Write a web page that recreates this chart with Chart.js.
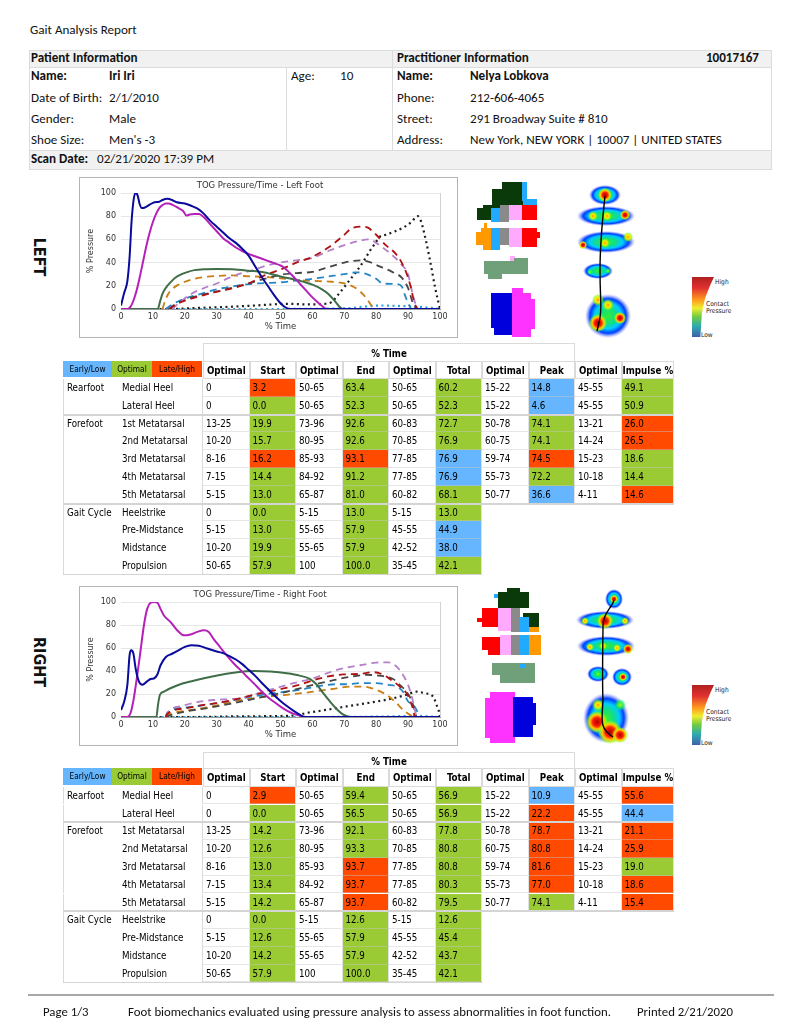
<!DOCTYPE html>
<html lang="en">
<head>
<meta charset="UTF-8">
<title>Gait Analysis Report</title>
<script src="https://cdn.jsdelivr.net/npm/chart.js"></script>
<style>
  html, body { margin: 0; padding: 0; background: #fff; }
  body { width: 791px; height: 1024px; position: relative; overflow: hidden;
         font-family: "Carlito", "Liberation Sans Narrow", "DejaVu Sans Condensed", sans-serif; color: #111; }
  .t { position: absolute; white-space: nowrap; font-size: 13.1px; line-height: 20px; }
  .b { font-weight: bold; }
  .box { position: absolute; box-sizing: border-box; }
  .chart-box { position: absolute; left: 79px; width: 379px; border: 1px solid #b4b4b4; box-sizing: border-box; background: #fff; }
  .side { position: absolute; left: 38.5px; font: bold 16px "Liberation Sans Narrow", "DejaVu Sans Condensed", sans-serif;
          transform: translate(-50%, -50%) rotate(90deg); white-space: nowrap; }
  .cell { position: absolute; box-sizing: border-box; white-space: nowrap; overflow: hidden;
          font: 9.7px "DejaVu Sans Condensed", "DejaVu Sans", sans-serif; color: #000; }
  .px { position: absolute; }
  .lg { position: absolute; font: 6.6px "DejaVu Sans Condensed", sans-serif; color: #222; line-height: 7px; white-space: nowrap; }
</style>
</head>
<body>

<div class="t" style="left:30px;top:20px;">Gait Analysis Report</div>

<!-- patient / practitioner header -->
<div class="box" style="left:29px;top:50px;width:743px;height:120px;border:1px solid #dcdcdc;"></div>
<div class="box" style="left:29px;top:50px;width:743px;height:18px;background:#f1f1f1;border:1px solid #dcdcdc;"></div>
<div class="box" style="left:29px;top:150px;width:743px;height:20px;background:#f1f1f1;border:1px solid #dcdcdc;"></div>
<div class="box" style="left:286px;top:67px;width:1px;height:83px;background:#dcdcdc;"></div>
<div class="box" style="left:392px;top:50px;width:1px;height:100px;background:#dcdcdc;"></div>

<div class="t b" style="left:31px;top:48px;">Patient Information</div>
<div class="t b" style="left:397px;top:48px;">Practitioner Information</div>
<div class="t b" style="right:32px;top:48px;">10017167</div>

<div class="t b" style="left:31px;top:66px;">Name:</div>
<div class="t b" style="left:109px;top:66px;">Iri Iri</div>
<div class="t" style="left:291px;top:66px;">Age:</div>
<div class="t" style="left:340px;top:66px;">10</div>
<div class="t" style="left:31px;top:88px;">Date of Birth:</div>
<div class="t" style="left:109px;top:88px;">2/1/2010</div>
<div class="t" style="left:31px;top:109px;">Gender:</div>
<div class="t" style="left:109px;top:109px;">Male</div>
<div class="t" style="left:31px;top:130px;">Shoe Size:</div>
<div class="t" style="left:109px;top:130px;">Men's -3</div>

<div class="t b" style="left:397px;top:66px;">Name:</div>
<div class="t b" style="left:470px;top:66px;">Nelya Lobkova</div>
<div class="t" style="left:397px;top:88px;">Phone:</div>
<div class="t" style="left:470px;top:88px;">212-606-4065</div>
<div class="t" style="left:397px;top:109px;">Street:</div>
<div class="t" style="left:470px;top:109px;">291 Broadway Suite # 810</div>
<div class="t" style="left:397px;top:130px;">Address:</div>
<div class="t" style="left:470px;top:130px;">New York, NEW YORK | 10007 | UNITED STATES</div>

<div class="t b" style="left:31px;top:149px;">Scan Date:</div>
<div class="t" style="left:97px;top:149px;">02/21/2020 17:39 PM</div>

<div class="side" style="top:257px;">LEFT</div>
<div class="side" style="top:662px;">RIGHT</div>

<div class="chart-box" style="top:177px;height:161px;"><canvas id="leftChart"></canvas></div>
<div class="chart-box" style="top:586px;height:160px;"><canvas id="rightChart"></canvas></div>

<div id="art"></div>
<svg class="px" style="left:0;top:0;" width="791" height="1024">
  <path d="M605,196 C603,215 600,240 600,270 S602,305 600,318 L597,331" fill="none" stroke="#000" stroke-width="1.4"/>
  <path d="M614,600 C612,608 603,613 603,625 S602,680 603,700 C602,720 599,728 613,737" fill="none" stroke="#000" stroke-width="1.4"/>
</svg>

<div id="tables"></div>

<div class="box" style="left:28px;top:994px;width:746px;height:2px;background:#a8a8a8;"></div>
<div class="t" style="left:43px;top:1002px;font-size:12.8px;">Page 1/3</div>
<div class="t" style="left:128px;top:1002px;font-size:12.8px;">Foot biomechanics evaluated using pressure analysis to assess abnormalities in foot function.</div>
<div class="t" style="left:637px;top:1002px;font-size:12.8px;">Printed 2/21/2020</div>

<script>
// ---- chart data: [% time, % pressure] ----
const timeTicks = [0, 10, 20, 30, 40, 50, 60, 70, 80, 90, 100];
const pressureTicks = [0, 10, 20, 30, 40, 50, 60, 70, 80, 90, 100];

// left foot
const leftLatHeel = [[0,3],[1,14],[2,24],[2.7,45],[3.3,75],[4,95],[4.6,100],[5.2,98],[5.8,91],[6.5,87],[7.5,87.5],[9,90],[10.5,92],[12,92.5],[13,94],[14.5,95],[16,94],[17.5,92],[20,91],[22,89],[24,86.5],[26,82],[28,76],[30,71],[32,66],[34,61],[36,57],[38,52],[40,46],[42,37],[44,28],[46,20],[48,12],[50,5],[51.5,1.5],[53,0],[100,0]];
const leftMedHeel = [[0,0],[2,0],[3,2],[4,8],[5,17],[6,29],[7,42],[8,55],[9,66],[10,75],[11,82],[12,87],[13,89.5],[14,91],[15,91],[16,90],[18,87],[19.5,84.5],[20.5,80.5],[21.5,81.5],[23,82],[24.5,82],[26,79],[28,73],[30,67],[32,61],[34,57],[36,53],[38,50],[40,47.5],[42,45.5],[44,43.5],[46,41.5],[48,39.5],[50,37.5],[51,36],[52,33.5],[54,28],[56,22],[58,16],[60,10],[62,5],[63.5,1.5],[64.5,0],[100,0]];
const leftMidfoot = [[0,0],[11.5,0],[12.3,7],[13,13],[14,18],[15.5,23],[17,27],[19,30],[21,32],[23,33.5],[26,34.3],[30,34.5],[35,34.2],[40,33],[45,31.5],[50,28],[55,25],[60,21],[63,17],[65,13],[67,7],[68.5,2],[69.5,0],[100,0]];
const leftMet1 = [[15,0],[18,5],[22,9],[26,12],[30,15],[35,18],[40,22],[45,29],[50,34],[55,40],[60,45],[65,53],[70,64],[72,69],[75,71],[77,70.5],[80,64],[83,55],[86,48],[88,40],[90,27],[91,17],[92,5],[93,0]];
const leftMet2 = [[16,0],[19,7],[22,13],[26,18],[30,22],[34,27],[38,31],[42,34],[45,37],[50,40],[55,42],[60,44],[65,50],[70,55],[75,59],[78,60],[80,57],[83,51],[86,44],[88,38],[90,30],[91,18],[92,7],[93,0]];
const leftMet3 = [[15,0],[17,4],[20,8],[25,12],[30,15],[35,18.5],[40,22],[45,26],[50,29.5],[55,31],[60,32],[65,36],[70,40],[75,42],[78,40.5],[80,38],[85,32],[88,27],[90,18],[91.5,5],[92.5,0]];
const leftMet4 = [[14,0],[15,2],[17.5,6],[20,9],[25,13],[30,17],[35,19.5],[40,21.5],[45,22.3],[50,23],[55,24.5],[60,26],[65,28],[70,30],[74,31.6],[77,30],[80,26],[82,22],[86,21.5],[88,19.5],[89,12],[90,5],[91,0]];
const leftMet5 = [[13,0],[13.8,7],[14.8,13],[16,17],[18,21],[20,23.5],[23,26],[26,27.5],[30,28.5],[34,29],[38,28.5],[42,28],[46,27.5],[50,26.5],[54,25.5],[58,24.5],[62,24],[66,23.5],[70,22],[73,19],[75,15],[77,9],[78.5,3],[79.5,0]];
const leftHallux = [[0,0],[15,0],[25,1],[35,2],[45,3.5],[52,4.5],[58,4],[64,4.5],[66,6],[68,12],[70,19],[72,26],[74,33],[76,41],[78,50],[80,58],[81,62],[83,64],[86,67],[89,71],[91,75],[93,80],[94,76],[95.5,60],[97,40],[98.5,18],[100,0]];
const leftToes = [[11,0],[40,0],[70,0.5],[78,2.5],[82,3],[88,2.5],[93,2],[97,1],[100,0]];

// right foot
const rightLatHeel = [[0,6],[1,13.5],[2,28],[2.7,54],[3.2,58],[3.9,55],[4.6,42],[5.6,31],[6.7,28],[8.2,31],[9.3,33],[10.3,33.5],[11.4,37],[12.4,45],[14,52],[16,55],[18,58],[20,61],[22,62.5],[24.4,62],[27,59.6],[30,57],[32,55.5],[34,53],[36,50],[38,46],[40,41],[42,36],[44,30],[46,24.5],[48,19],[50,14],[52,9.5],[54,5.5],[56,2],[57.5,0],[100,0]];
const rightMedHeel = [[0,0],[2,0],[3,3.5],[4,16],[5.1,36.6],[6.1,57],[7.2,80],[8.2,94],[9.3,99.4],[10.3,100],[11.4,99.4],[12.4,94],[13.4,88.5],[15.5,82.7],[17.6,75.5],[19.7,71],[21.8,71.8],[23.9,74],[26,75.5],[27.5,74],[29,68],[31,61],[33,54],[35.3,46.7],[37.4,41],[39.5,35],[41.6,29.4],[43.6,23.6],[45.7,18],[47.8,13.5],[49.9,9.2],[52,5.5],[54,2.9],[56,1.2],[58.2,0],[100,0]];
const rightMidfoot = [[0,0],[11.1,0],[11.6,10.7],[12.2,19.3],[13.4,22],[15.5,25],[18.6,28.5],[21.8,30.8],[26,33.7],[31,36.6],[36.4,39],[41.6,40],[46.8,39.5],[52,38],[56,36],[59.3,33],[61.4,28],[63.4,20.7],[65.5,13.5],[67.6,7],[69.7,2],[71.8,0],[100,0]];
const rightMet1 = [[14,0],[14.5,2.6],[20.7,7.8],[27,11],[30,12],[35.3,15],[41.6,19.3],[48.9,23.6],[56,28],[60.3,32],[64.5,35],[69.7,37],[75,37.5],[79,39],[82,37],[84.8,32],[87.4,26.5],[89.5,20.7],[90.5,15],[91.6,6.3],[92,0]];
const rightMet2 = [[14,0],[14.5,3.5],[19.7,10],[25,13.5],[30,15],[37.4,16.4],[44.7,22],[54,29.4],[60.3,33.7],[64.5,38],[69.7,42.4],[75,45],[80,47.3],[83.8,47.5],[86.4,43.8],[88.4,36.6],[90,28],[91,19.3],[92,7.8],[92.6,0]];
const rightMet3 = [[14,0],[14.5,0.6],[20.7,5],[27,7.8],[35.3,12],[43.6,17],[52,22],[60.3,28],[66.6,32],[71.8,35],[77,36.6],[81,36],[85.3,33],[87.4,28],[89.5,22],[91,15],[92,6.3],[92.6,0]];
const rightMet4 = [[14,0],[14.5,3.5],[20.7,8.4],[27,10.7],[33,13.5],[39.5,17],[47.8,20.7],[56,23.6],[62.4,27],[67.6,28.5],[71,28.5],[75,29.4],[80,29.4],[83.8,28],[86.4,26.5],[88.4,22],[90,13.5],[91.6,10.7],[92.6,6.3],[93.6,0]];
const rightMet5 = [[14,0],[14.5,1.4],[20.7,5.5],[27,8.4],[35.3,13.5],[43.6,17],[52,19.3],[60.3,22],[66.6,24.5],[71.8,26.5],[76,26.5],[80,23.6],[83.2,19.3],[86.4,12],[88.4,6.3],[90.5,2],[92,0]];
const rightHallux = [[0,0],[22.8,0],[38.4,0.6],[54,1.2],[58.2,3.5],[64.5,6.3],[70.7,9.2],[77,12],[83.2,15],[89.5,19.3],[92.6,22],[95.2,20.7],[97.8,17.9],[98.9,10.7],[99.9,2],[100,0]];
const rightToes = [[11,0],[60,0],[85,0.5],[92,1],[100,0]];

// ---- table data: group, region, then optimal/value pairs, then flags (g optimal, b early/low, r late/high) ----
const tableHeads = ['Optimal', 'Start', 'Optimal', 'End', 'Optimal', 'Total', 'Optimal', 'Peak', 'Optimal', 'Impulse %'];
const leftTableRows = [
  ['Rearfoot', 'Medial Heel', '0', '3.2', '50-65', '63.4', '50-65', '60.2', '15-22', '14.8', '45-55', '49.1', 'rggbg'],
  ['', 'Lateral Heel', '0', '0.0', '50-65', '52.3', '50-65', '52.3', '15-22', '4.6', '45-55', '50.9', 'gggbg'],
  ['Forefoot', '1st Metatarsal', '13-25', '19.9', '73-96', '92.6', '60-83', '72.7', '50-78', '74.1', '13-21', '26.0', 'ggggr'],
  ['', '2nd Metatarsal', '10-20', '15.7', '80-95', '92.6', '70-85', '76.9', '60-75', '74.1', '14-24', '26.5', 'ggggr'],
  ['', '3rd Metatarsal', '8-16', '16.2', '85-93', '93.1', '77-85', '76.9', '59-74', '74.5', '15-23', '18.6', 'rrbrg'],
  ['', '4th Metatarsal', '7-15', '14.4', '84-92', '91.2', '77-85', '76.9', '55-73', '72.2', '10-18', '14.4', 'ggbgg'],
  ['', '5th Metatarsal', '5-15', '13.0', '65-87', '81.0', '60-82', '68.1', '50-77', '36.6', '4-11', '14.6', 'gggbr'],
  ['Gait Cycle', 'Heelstrike', '0', '0.0', '5-15', '13.0', '5-15', '13.0', 'ggg'],
  ['', 'Pre-Midstance', '5-15', '13.0', '55-65', '57.9', '45-55', '44.9', 'ggb'],
  ['', 'Midstance', '10-20', '19.9', '55-65', '57.9', '42-52', '38.0', 'ggb'],
  ['', 'Propulsion', '50-65', '57.9', '100', '100.0', '35-45', '42.1', 'ggg']
];
const rightTableRows = [
  ['Rearfoot', 'Medial Heel', '0', '2.9', '50-65', '59.4', '50-65', '56.9', '15-22', '10.9', '45-55', '55.6', 'rggbr'],
  ['', 'Lateral Heel', '0', '0.0', '50-65', '56.5', '50-65', '56.9', '15-22', '22.2', '45-55', '44.4', 'gggrb'],
  ['Forefoot', '1st Metatarsal', '13-25', '14.2', '73-96', '92.1', '60-83', '77.8', '50-78', '78.7', '13-21', '21.1', 'gggrr'],
  ['', '2nd Metatarsal', '10-20', '12.6', '80-95', '93.3', '70-85', '80.8', '60-75', '80.8', '14-24', '25.9', 'gggrr'],
  ['', '3rd Metatarsal', '8-16', '13.0', '85-93', '93.7', '77-85', '80.8', '59-74', '81.6', '15-23', '19.0', 'grgrg'],
  ['', '4th Metatarsal', '7-15', '13.4', '84-92', '93.7', '77-85', '80.3', '55-73', '77.0', '10-18', '18.6', 'grgrr'],
  ['', '5th Metatarsal', '5-15', '14.2', '65-87', '93.7', '60-82', '79.5', '50-77', '74.1', '4-11', '15.4', 'grggr'],
  ['Gait Cycle', 'Heelstrike', '0', '0.0', '5-15', '12.6', '5-15', '12.6', 'ggg'],
  ['', 'Pre-Midstance', '5-15', '12.6', '55-65', '57.9', '45-55', '45.4', 'ggg'],
  ['', 'Midstance', '10-20', '14.2', '55-65', '57.9', '42-52', '43.7', 'ggg'],
  ['', 'Propulsion', '50-65', '57.9', '100', '100.0', '35-45', '42.1', 'ggg']
];

const flagColor = { g: '#9acb34', b: '#66b6ff', r: '#ff4a00' };

// ---- charts ----
function seriesList(s) {
  return [
    { points: s.latHeel, color: '#0a0a9c', style: 'solid' },
    { points: s.medHeel, color: '#b420b8', style: 'solid' },
    { points: s.midfoot, color: '#3f6e48', style: 'solid' },
    { points: s.met1, color: '#b01212', style: 'dash' },
    { points: s.met2, color: '#b57fc9', style: 'dash' },
    { points: s.met3, color: '#474747', style: 'dash' },
    { points: s.met4, color: '#2586c6', style: 'dash' },
    { points: s.met5, color: '#c97d12', style: 'dash' },
    { points: s.hallux, color: '#1e1e1e', style: 'dot' },
    { points: s.toes, color: '#2a9fe0', style: 'dot' }
  ];
}

function makeChart(canvasId, titleText, series) {
  const datasets = series.map(s => ({
    data: s.points.map(p => ({ x: p[0], y: p[1] })),
    borderColor: s.color,
    borderWidth: s.style === 'solid' ? 2 : (s.style === 'dash' ? 1.8 : 2.2),
    borderDash: s.style === 'dash' ? [7, 5] : (s.style === 'dot' ? [2, 3.5] : []),
    pointRadius: 0,
    fill: false,
    cubicInterpolationMode: 'monotone'
  }));
  return new Chart(document.getElementById(canvasId), {
    type: 'line',
    data: { datasets: datasets },
    options: {
      responsive: true,
      maintainAspectRatio: false,
      animation: false,
      layout: { padding: { left: 0, right: 17, top: 0, bottom: 0 } },
      plugins: {
        legend: { display: false },
        tooltip: { enabled: false },
        title: { display: true, text: titleText, color: '#333',
                 font: { size: 8.5, weight: 'normal' }, padding: { top: 2.4, bottom: 2.4 } }
      },
      scales: {
        x: {
          type: 'linear', min: 0, max: 100,
          afterBuildTicks: sc => { sc.ticks = timeTicks.map(v => ({ value: v })); },
          afterFit: sc => { sc.height = 28; },
          grid: { drawTicks: false, color: c => (c.tick && c.tick.value === 100) ? '#d2d2d2' : 'rgba(0,0,0,0)' },
          border: { color: '#9a9a9a' },
          ticks: { padding: 3, color: '#333', font: { size: 8 } },
          title: { display: true, text: '% Time', color: '#333', font: { size: 8.5 }, padding: { top: 0, bottom: 5 } }
        },
        y: {
          min: 0, max: 100,
          afterBuildTicks: sc => { sc.ticks = pressureTicks.map(v => ({ value: v })); },
          afterFit: sc => { sc.width = 41; },
          grid: { drawTicks: false, color: '#e6e6e6' },
          border: { display: false },
          ticks: { padding: 5, color: '#333', font: { size: 8 } },
          title: { display: true, text: '% Pressure', color: '#333', font: { size: 8 }, padding: { top: 6, bottom: 0 } }
        }
      }
    }
  });
}

Chart.defaults.font.family = '"DejaVu Sans", Verdana, sans-serif';

makeChart('leftChart', 'TOG Pressure/Time - Left Foot', seriesList({
  latHeel: leftLatHeel, medHeel: leftMedHeel, midfoot: leftMidfoot,
  met1: leftMet1, met2: leftMet2, met3: leftMet3, met4: leftMet4, met5: leftMet5,
  hallux: leftHallux, toes: leftToes
}));
makeChart('rightChart', 'TOG Pressure/Time - Right Foot', seriesList({
  latHeel: rightLatHeel, medHeel: rightMedHeel, midfoot: rightMidfoot,
  met1: rightMet1, met2: rightMet2, met3: rightMet3, met4: rightMet4, met5: rightMet5,
  hallux: rightHallux, toes: rightToes
}));

// ---- tables ----
const tablesEl = document.getElementById('tables');
function cell(x, y, w, h, text, style) {
  const d = document.createElement('div');
  d.className = 'cell';
  d.style.cssText = `left:${x}px;top:${y}px;width:${w}px;height:${h}px;line-height:${h}px;` + (style || '');
  d.textContent = text;
  tablesEl.appendChild(d);
  return d;
}

function buildTable(rows, top, headTop, rowsTop) {
  const colX = [63, 117, 203, 249.5, 296, 342.5, 389, 435.5, 482, 528.5, 575, 621.5, 673.5];
  const rowH = 17.8;
  cell(203, top, 372, headTop - top + 1, '% Time', 'font-weight:bold;text-align:center;border:1px solid #dadada;border-bottom:none;');
  const hh = rowsTop - headTop;
  cell(63, headTop, 49, hh - 2, 'Early/Low', 'background:#66b6ff;text-align:center;font-size:8.3px;');
  cell(112, headTop, 40, hh - 2, 'Optimal', 'background:#9acb34;text-align:center;font-size:8.3px;');
  cell(152, headTop, 50, hh - 2, 'Late/High', 'background:#ff4a00;text-align:center;font-size:8.3px;');
  tableHeads.forEach((h, j) => {
    cell(colX[2 + j], headTop, colX[3 + j] - colX[2 + j], hh, h,
      'font-weight:bold;text-align:center;border:1px solid #dadada;background:#fff;');
  });
  rows.forEach((r, i) => {
    const y = rowsTop + i * rowH;
    const flags = r[r.length - 1];
    const vals = r.slice(2, r.length - 1);
    cell(63, y, 54, rowH, r[0], 'padding-left:3px;border-left:1px solid #dadada;');
    cell(117, y, 86, rowH, r[1], 'padding-left:5px;border-right:1px solid #dadada;');
    vals.forEach((v, j) => {
      const bg = (j % 2 === 1) ? flagColor[flags[(j - 1) / 2]] : '#fff';
      cell(colX[2 + j], y, colX[3 + j] - colX[2 + j], rowH, v,
        `padding-left:3px;background:${bg};border-right:1px solid #e2e2e2;border-bottom:1px solid rgba(200,200,200,0.45);`);
    });
    if (r[0] && i > 0) {
      cell(63, y - 1, 610.5, 2, '', 'background:#d4d4d4;');
    }
  });
  cell(63, rowsTop + rows.length * rowH - 1, 419, 1.5, '', 'background:#d4d4d4;');
}
buildTable(leftTableRows, 342.7, 360.7, 379);
buildTable(rightTableRows, 751.7, 768.3, 786.7);

// ---- pressure map pictures (decoration) ----
const artEl = document.getElementById('art');
function rect(x, y, w, h, c) {
  const d = document.createElement('div');
  d.className = 'px';
  d.style.cssText = `left:${x}px;top:${y}px;width:${w}px;height:${h}px;background:${c};`;
  artEl.appendChild(d);
}
const DG = '#0a3a0a', CY = '#22aaff', GR = '#8a8a8a', PK = '#ffaaff', RD = '#ff0000',
      OR = '#ff9900', MG = '#70a07a', BL = '#0000dd', MA = '#ff33ff';
[
  [502,182,21,8,DG],[492,189,31,19,DG],[483,205,19,6,DG],[477,208,18,12,DG],
  [522,182,5,19,CY],[523,199,14,6,CY],[491,208,9,14,CY],[500,205,9,17,GR],[509,205,13,15,PK],[522,205,15,15,RD],
  [484,223,3,5,OR],[481,228,10,4,OR],[476,232,15,13,OR],[483,245,8,5,OR],
  [491,228,9,22,CY],[500,228,9,17,GR],[509,228,13,19,PK],[522,228,15,19,RD],[537,232,3,6,RD],
  [510,256,5,5,PK],[484,261,44,13,MG],[488,274,14,5,MG],[514,258,14,7,MG],
  [491,293,21,35,BL],[494,328,18,7,BL],[512,288,11,5,MA],[512,293,19,44,MA],[531,299,4,30,MA],
  [507,588,13,5,DG],[498,592,31,16,DG],[508,606,11,4,DG],[523,613,16,14,DG],[494,594,4,4,CY],
  [482,608,16,19,RD],[477,618,5,4,RD],[498,608,13,23,PK],[511,608,9,24,GR],[520,617,9,15,CY],[529,627,10,5,OR],
  [482,637,18,13,RD],[488,650,12,5,RD],[500,635,11,20,PK],[511,635,9,20,GR],[520,635,9,20,CY],[529,635,12,20,OR],
  [492,663,43,12,MG],[500,673,35,10,MG],[520,664,6,4,CY],
  [490,692,25,6,MA],[485,698,30,40,MA],[490,738,25,5,MA],[513,697,20,40,BL],[533,703,3,22,BL]
].forEach(a => rect(a[0], a[1], a[2], a[3], a[4]));

function blob(cx, cy, rx, ry, kind) {
  const grads = {
    base: 'radial-gradient(ellipse closest-side, #33ee33 0%, #11dd88 35%, #00ccff 58%, #0040ff 78%, rgba(80,100,255,0.35) 92%, rgba(200,210,255,0) 100%)',
    r: 'radial-gradient(circle closest-side, #b00000 0%, #ff2000 40%, #ffcc00 65%, rgba(150,255,0,0.6) 85%, rgba(0,255,100,0) 100%)',
    y: 'radial-gradient(circle closest-side, #ff9900 0%, #ffee00 40%, rgba(120,255,0,0.6) 75%, rgba(0,255,0,0) 100%)',
    g: 'radial-gradient(circle closest-side, #aaff00 0%, rgba(0,255,80,0.7) 60%, rgba(0,255,200,0) 100%)'
  };
  const d = document.createElement('div');
  d.className = 'px';
  d.style.cssText = `left:${cx - rx}px;top:${cy - ry}px;width:${2 * rx}px;height:${2 * ry}px;background:${grads[kind]};`;
  artEl.appendChild(d);
}
[
  [605,195,16,10,'base'],[606,216,29,10,'base'],[606,242,29,11,'base'],[598,271,15,8,'base'],[608,316,23,22,'base'],
  [605,195,7,7,'r'],[593,216,5,5,'y'],[607,216,5,5,'y'],[625,215,5,5,'r'],
  [583,245,4,4,'r'],[605,243,5,5,'y'],[628,237,5,5,'y'],[590,272,3,3,'g'],[608,271,3,3,'g'],
  [598,300,6,6,'y'],[608,305,6,6,'y'],[620,318,6,6,'r'],[598,323,9,9,'r'],
  [614,599,9,10,'base'],[605,620,29,9,'base'],[606,646,29,10,'base'],[598,674,11,8,'base'],[622,677,10,9,'base'],[606,718,23,25,'base'],
  [614,599,4,4,'r'],[605,621,8,8,'r'],[585,621,4,4,'y'],[625,621,4,4,'y'],
  [628,649,5,5,'r'],[590,647,4,4,'y'],[603,646,4,4,'y'],[617,648,4,4,'y'],[623,677,4,4,'r'],[598,674,3,3,'g'],
  [598,705,6,6,'y'],[620,705,6,6,'g'],[597,722,11,11,'r'],[610,732,12,12,'r'],[620,735,8,8,'r']
].forEach(a => blob(a[0], a[1], a[2], a[3], a[4]));

function scaleBar(top) {
  const d = document.createElement('div');
  d.className = 'px';
  d.style.cssText = `left:692px;top:${top}px;width:22px;height:60px;` +
    'background:linear-gradient(to bottom,#b02020 0%,#e03030 18%,#ff9a20 38%,#eeee30 52%,#70cc40 66%,#30aab0 82%,#4060a8 100%);' +
    'clip-path:polygon(0 0,100% 0,82% 14%,60% 35%,45% 60%,38% 100%,0 100%);';
  artEl.appendChild(d);
  const labels = [['High', 715, top + 2], ['Contact', 706, top + 24], ['Pressure', 706, top + 31], ['Low', 701, top + 55]];
  labels.forEach(l => {
    const s = document.createElement('div');
    s.className = 'lg';
    s.style.left = l[1] + 'px';
    s.style.top = l[2] + 'px';
    s.textContent = l[0];
    artEl.appendChild(s);
  });
}
scaleBar(277);
scaleBar(685);
</script>
</body>
</html>
